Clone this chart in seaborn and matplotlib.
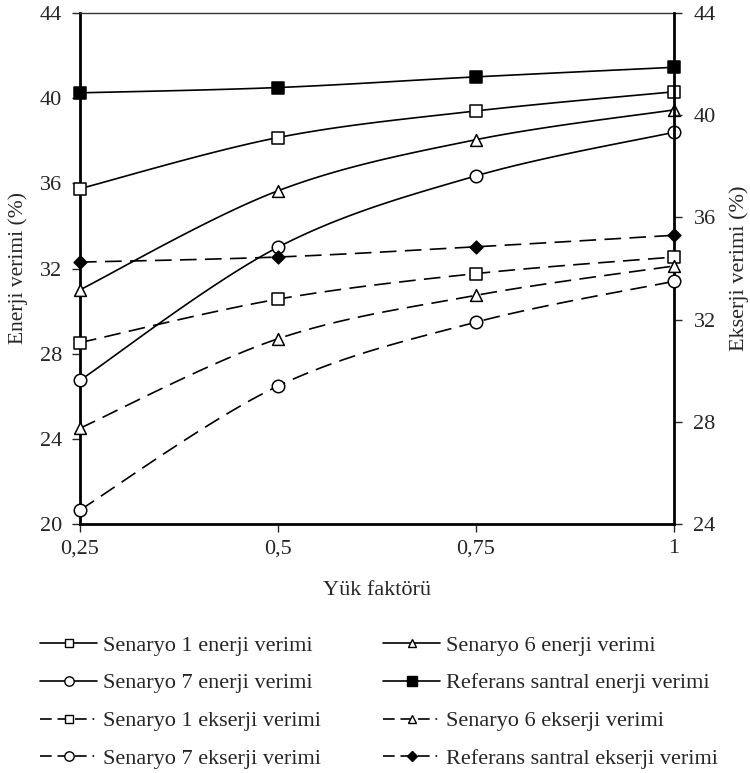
import numpy as np
import matplotlib
matplotlib.use("Agg")
import matplotlib.pyplot as plt
from matplotlib.lines import Line2D
import seaborn as sns

# yük faktörü
yuk = [0.25, 0.5, 0.75, 1.0]
yuk_etiket = ["0,25", "0,5", "0,75", "1"]

# enerji verimi (%), sol eksen
s1_enerji = [35.75, 38.15, 39.4, 40.3]
s6_enerji = [31.0, 35.65, 38.05, 39.45]
s7_enerji = [26.75, 33.0, 36.35, 38.4]
ref_enerji = [40.25, 40.5, 41.0, 41.45]

# ekserji verimi (%), sag eksen
s1_ekserji = [31.1, 32.8, 33.8, 34.45]
s6_ekserji = [27.75, 31.25, 32.95, 34.1]
s7_ekserji = [24.55, 29.4, 31.9, 33.5]
ref_ekserji = [34.25, 34.45, 34.85, 35.3]

sol_ticks = [20, 24, 28, 32, 36, 40, 44]
sag_ticks = [24, 28, 32, 36, 40, 44]


def excel_smooth(x, y, n=40):
    # excel "düzgün çizgi" benzeri bezier egrisi
    p = np.column_stack([x, y]).astype(float)
    p = np.vstack([p[0], p, p[-1]])
    t = np.linspace(0, 1, n)[:, None]
    out = []
    for i in range(1, len(p) - 2):
        p0, p1, p2, p3 = p[i - 1], p[i], p[i + 1], p[i + 2]
        c1 = p1 + (p2 - p0) / 6
        c2 = p2 - (p3 - p1) / 6
        seg = ((1 - t) ** 3) * p1 + 3 * ((1 - t) ** 2) * t * c1 + 3 * (1 - t) * t ** 2 * c2 + t ** 3 * p2
        out.append(seg if i == 1 else seg[1:])
    out = np.vstack(out)
    return out[:, 0], out[:, 1]


sns.set_style("white")
plt.rcParams["font.family"] = ["Liberation Serif", "DejaVu Serif"]
plt.rcParams["font.size"] = 16

fig = plt.figure(figsize=(7.5, 7.73), dpi=100)
ax = fig.add_axes([80 / 750, 1 - 524 / 773, 594 / 750, 511 / 773])
ax2 = ax.twinx()

kesik = (0, (10, 5))
seriler = [
    (ax, s1_enerji, "Senaryo 1 enerji verimi", "s", "white", 8, "-"),
    (ax, s6_enerji, "Senaryo 6 enerji verimi", "^", "white", 8.5, "-"),
    (ax, s7_enerji, "Senaryo 7 enerji verimi", "o", "white", 9, "-"),
    (ax, ref_enerji, "Referans santral enerji verimi", "s", "black", 9, "-"),
    (ax2, s1_ekserji, "Senaryo 1 ekserji verimi", "s", "white", 8, kesik),
    (ax2, s6_ekserji, "Senaryo 6 ekserji verimi", "^", "white", 8.5, kesik),
    (ax2, s7_ekserji, "Senaryo 7 ekserji verimi", "o", "white", 9, kesik),
    (ax2, ref_ekserji, "Referans santral ekserji verimi", "D", "black", 6.5, kesik),
]

for eks, deger, ad, mk, fc, ms, ls in seriler:
    xs, ys = excel_smooth(yuk, deger)
    sns.lineplot(x=xs, y=ys, ax=eks, color="black", lw=1.2, linestyle=ls,
                 sort=False, estimator=None)
    sns.scatterplot(x=yuk, y=deger, ax=eks, marker=mk, s=ms ** 2,
                    facecolor=fc, edgecolor="black", linewidth=1.1, zorder=5,
                    clip_on=False)

ax.set_xlim(0.25, 1.0)
ax.set_ylim(20, 44)
ax2.set_ylim(24, 44)
ax.set_xticks(yuk)
ax.set_xticklabels(yuk_etiket)
ax.set_yticks(sol_ticks)
ax2.set_yticks(sag_ticks)

ax.tick_params(axis="x", direction="out", length=6, width=1, pad=5, bottom=True)
ax.tick_params(axis="y", direction="out", length=6, width=1, pad=7, left=True)
ax2.tick_params(axis="y", direction="out", length=6, width=1, pad=8, right=True)

for sp in list(ax.spines.values()) + list(ax2.spines.values()):
    sp.set_edgecolor("black")
for s in ["left", "bottom"]:
    ax.spines[s].set_linewidth(2)
ax.spines["top"].set_linewidth(1)
ax.spines["top"].set_edgecolor("#333333")
ax.spines["right"].set_visible(False)
for s in ["left", "bottom", "top"]:
    ax2.spines[s].set_visible(False)
ax2.spines["right"].set_linewidth(2)

ax.set_ylabel("Enerji verimi (%)", fontsize=15.5)
ax.yaxis.set_label_coords(-0.088, 0.5)
ax2.set_ylabel("Ekserji verimi (%)", fontsize=16)
ax2.yaxis.set_label_coords(1.093, 0.5)
ax.set_xlabel("Yük faktörü")
ax.xaxis.set_label_coords(0.5, -0.111)

# lejant
tutamaclar = []
for eks, deger, ad, mk, fc, ms, ls in seriler:
    tutamaclar.append(Line2D([0], [0], color="black", lw=1.2,
                             linestyle="-" if ls == "-" else (0, (7, 3.5, 7, 3.5, 7, 3.5, 1, 3)),
                             marker=mk, markerfacecolor=fc, markeredgecolor="black",
                             markersize=ms * 0.75, label=ad))
sira = [0, 2, 4, 6, 1, 3, 5, 7]
fig.legend([tutamaclar[i] for i in sira], [seriler[i][2] for i in sira],
           loc="upper left", bbox_to_anchor=(40 / 750, 1 - 635 / 773),
           ncol=2, frameon=False, fontsize=16, handlelength=2.57,
           handletextpad=0.27, labelspacing=0.78, columnspacing=2.8,
           borderpad=0, borderaxespad=0)

fig.savefig("out.png", dpi=100)
